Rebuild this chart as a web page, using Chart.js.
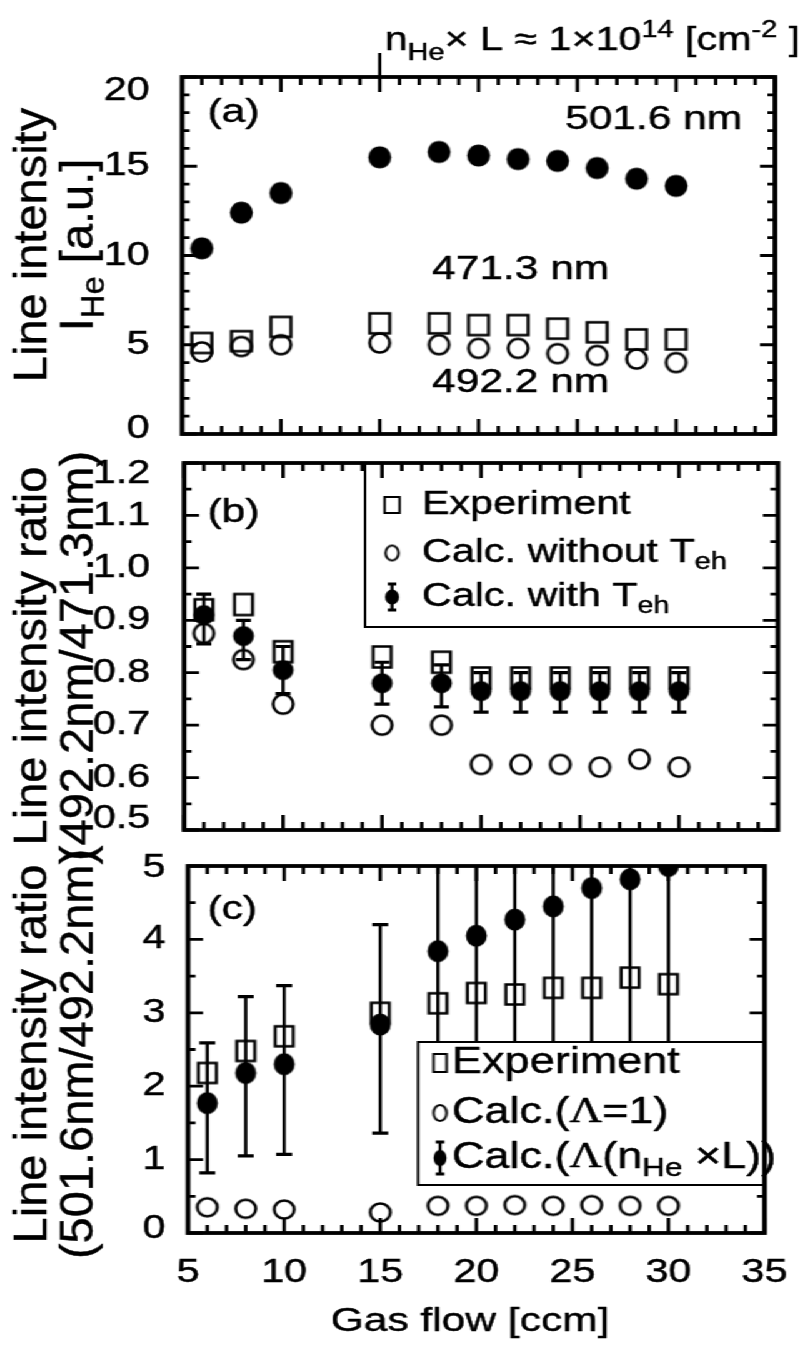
<!DOCTYPE html>
<html>
<head>
<meta charset="utf-8">
<title>He I line intensities vs gas flow</title>
<script src="https://cdn.jsdelivr.net/npm/chart.js@4.4.1/dist/chart.umd.min.js"></script>
<style>
  html, body { margin: 0; padding: 0; background: #fff; }
  body { width: 812px; height: 1347px; overflow: hidden; position: relative; }
  /* the sheet is laid out 650px wide and stretched sideways */
  #sheet { position: absolute; left: 0; top: 0; width: 650px; height: 1347px;
           transform: scaleX(1.25); transform-origin: 0 0; }
  #sheet canvas { position: absolute; left: 0; top: 0; }
</style>
</head>
<body>
<div id="sheet">
  <canvas id="panelA" width="650" height="1347"></canvas>
  <canvas id="panelB" width="650" height="1347"></canvas>
  <canvas id="panelC" width="650" height="1347"></canvas>
</div>
<script>
// gas flow settings [ccm], shared by all three panels
const gasFlow = [6, 8, 10, 15, 18, 20, 22, 24, 26, 28, 30];
const flowTicks = [5, 10, 15, 20, 25, 30, 35];

// (a) line intensities I_He [a.u.]
const int5016 = [10.4, 12.4, 13.5, 15.5, 15.8, 15.6, 15.4, 15.3, 14.9, 14.3, 13.9];
const int4713 = [5.1, 5.2, 6.0, 6.2, 6.2, 6.1, 6.1, 5.9, 5.7, 5.3, 5.3];
const int4922 = [4.6, 4.9, 5.0, 5.1, 5.0, 4.8, 4.8, 4.5, 4.4, 4.2, 4.0];
const intTicks = [0, 5, 10, 15, 20];

// (b) ratio 492.2nm/471.3nm
const ratioBExp   = [0.92, 0.93, 0.84, 0.83, 0.82, 0.79, 0.79, 0.79, 0.79, 0.79, 0.79];
const ratioBNoTeh = [0.875, 0.825, 0.74, 0.70, 0.70, 0.625, 0.625, 0.625, 0.62, 0.635, 0.62];
const ratioBTeh   = [0.91, 0.87, 0.805, 0.78, 0.78, 0.765, 0.765, 0.765, 0.765, 0.765, 0.765];
const ratioBTehLo = [0.855, 0.825, 0.76, 0.74, 0.735, 0.725, 0.725, 0.725, 0.725, 0.725, 0.725];
const ratioBTehHi = [0.95, 0.90, 0.85, 0.82, 0.815, 0.80, 0.80, 0.80, 0.80, 0.80, 0.80];
const ratioBTicks = [0.5, 0.6, 0.7, 0.8, 0.9, 1.0, 1.1, 1.2];

// (c) ratio 501.6nm/492.2nm
const ratioCExp   = [2.18, 2.48, 2.68, 3.0, 3.13, 3.27, 3.25, 3.34, 3.34, 3.48, 3.39];
const ratioCLam1  = [0.35, 0.33, 0.32, 0.28, 0.37, 0.37, 0.38, 0.37, 0.38, 0.37, 0.37];
const ratioCLam   = [1.77, 2.18, 2.30, 2.84, 3.84, 4.05, 4.27, 4.45, 4.70, 4.82, 5.0];
const ratioCLamLo = [0.82, 1.05, 1.07, 1.36, 2.0, 2.0, 2.0, 2.0, 2.0, 2.0, 2.0];
const ratioCLamHi = [2.59, 3.22, 3.37, 4.20, 6.5, 6.5, 6.5, 6.5, 6.5, 6.5, 6.5];
const ratioCTicks = [0, 1, 2, 3, 4, 5];

const SX = 1.25;        // sideways stretch of #sheet
const PAGE_W = 650;
const PAGE_H = 1347;
const INK = 0.45;       // thin outline added to text so the glyphs look a little heavier
const FAMILY = '"Liberation Sans", Arial, Helvetica, sans-serif';
const SERIF = '"Liberation Serif", "Times New Roman", serif';

Chart.defaults.font.family = FAMILY;
Chart.defaults.color = '#000';

// point symbols; w and h are the on-page sizes, so the stretch is undone here
function symbol(kind, w, h, lw = 2.5) {
  const c = document.createElement('canvas');
  const rw = w / SX;
  c.width = Math.ceil(rw + lw * 2 + 2);
  c.height = Math.ceil(h + lw * 2 + 2);
  const g = c.getContext('2d');
  g.translate(c.width / 2, c.height / 2);
  g.lineWidth = lw;
  g.strokeStyle = '#000';
  g.fillStyle = '#000';
  if (kind === 'box') {
    g.strokeRect(-rw / 2, -h / 2, rw, h);
  } else {
    g.beginPath();
    g.ellipse(0, 0, rw / 2, h / 2, 0, 0, Math.PI * 2);
    if (kind === 'dot') g.fill(); else g.stroke();
  }
  return c;
}

function points(ys) {
  return gasFlow.map((x, i) => ({ x, y: ys[i] }));
}

function series(ys, style) {
  return {
    data: points(ys),
    showLine: false,
    pointStyle: style,
    pointRadius: 12,
    borderColor: '#000',
    backgroundColor: '#000'
  };
}

// text made of plain, subscript and superscript runs
function richText(ctx, runs, x, y, size, align = 'left') {
  const parts = runs.map(r => {
    const small = r.sub || r.sup;
    const s = small ? size * 0.7 : size;
    const f = `${s}px ${r.serif ? SERIF : FAMILY}`;
    ctx.font = f;
    return {
      t: r.t, f,
      w: ctx.measureText(r.t).width,
      dy: r.sub ? size * 0.3 : r.sup ? -size * 0.4 : 0
    };
  });
  let cx = x;
  if (align === 'center') cx -= parts.reduce((s, q) => s + q.w, 0) / 2;
  ctx.textAlign = 'left';
  ctx.strokeStyle = '#000';
  ctx.lineWidth = INK;
  ctx.lineJoin = 'round';
  for (const q of parts) {
    ctx.font = q.f;
    ctx.fillText(q.t, cx, y + q.dy);
    ctx.strokeText(q.t, cx, y + q.dy);
    cx += q.w;
  }
}

// rotated axis titles keep their natural proportions
function sideTitle(ctx, lines, xs, cy, size) {
  lines.forEach((runs, i) => {
    ctx.save();
    ctx.translate(xs[i], cy);
    ctx.scale(1 / SX, 1);
    ctx.rotate(-Math.PI / 2);
    ctx.fillStyle = '#000';
    ctx.textBaseline = 'middle';
    richText(ctx, runs, 0, 0, size, 'center');
    ctx.restore();
  });
}

function drawTicks(chart, p) {
  const { ctx, chartArea: a, scales: { x, y } } = chart;
  ctx.save();
  ctx.strokeStyle = '#000';
  ctx.lineWidth = 2.8;
  ctx.beginPath();
  const first = flowTicks[0], last = flowTicks[flowTicks.length - 1];
  for (let v = first; v <= last; v++) {
    const px = x.getPixelForValue(v);
    const len = v % 5 === 0 ? 15 : 8;
    ctx.moveTo(px, a.bottom); ctx.lineTo(px, a.bottom - len);
    ctx.moveTo(px, a.top); ctx.lineTo(px, a.top + len);
  }
  const n = Math.round((p.yMax - p.yMin) / p.yMinor);
  for (let i = 0; i <= n; i++) {
    const py = y.getPixelForValue(p.yMin + i * p.yMinor);
    const len = i % p.perMajor === 0 ? 12 : 6;
    ctx.moveTo(a.left, py); ctx.lineTo(a.left + len, py);
    ctx.moveTo(a.right, py); ctx.lineTo(a.right - len, py);
  }
  ctx.stroke();
  ctx.restore();
}

function drawOutline(chart) {
  const { ctx, chartArea: a } = chart;
  ctx.save();
  ctx.strokeStyle = '#000';
  ctx.lineWidth = 3.8;
  ctx.strokeRect(a.left, a.top, a.right - a.left, a.bottom - a.top);
  ctx.restore();
}

function drawErrorBars(chart, bars) {
  const { ctx, chartArea: a, scales: { x, y } } = chart;
  ctx.save();
  ctx.beginPath();
  ctx.rect(a.left, a.top, a.right - a.left, a.bottom - a.top);
  ctx.clip();
  ctx.strokeStyle = '#000';
  gasFlow.forEach((v, i) => {
    const px = x.getPixelForValue(v);
    const y1 = y.getPixelForValue(bars.lo[i]);
    const y2 = y.getPixelForValue(bars.hi[i]);
    ctx.lineWidth = 2.6;
    ctx.beginPath();
    ctx.moveTo(px, y1); ctx.lineTo(px, y2);
    ctx.stroke();
    ctx.lineWidth = 3.2;
    ctx.beginPath();
    ctx.moveTo(px - bars.cap, y1); ctx.lineTo(px + bars.cap, y1);
    ctx.moveTo(px - bars.cap, y2); ctx.lineTo(px + bars.cap, y2);
    ctx.stroke();
  });
  ctx.restore();
}

function drawKey(ctx, key, x, y) {
  if (key.bar) {
    ctx.lineWidth = 2.4;
    ctx.beginPath();
    ctx.moveTo(x, y - key.bar); ctx.lineTo(x, y + key.bar);
    ctx.stroke();
    ctx.lineWidth = 3;
    ctx.beginPath();
    ctx.moveTo(x - key.cap, y - key.bar); ctx.lineTo(x + key.cap, y - key.bar);
    ctx.moveTo(x - key.cap, y + key.bar); ctx.lineTo(x + key.cap, y + key.bar);
    ctx.stroke();
  }
  ctx.drawImage(key.img, x - key.img.width / 2, y - key.img.height / 2);
}

function drawLegend(chart, lg) {
  const { ctx, chartArea: a } = chart;
  const top = lg.top ?? a.top;
  ctx.save();
  ctx.fillStyle = '#fff';
  ctx.fillRect(lg.left, top, a.right - lg.left, lg.bottom - top);
  ctx.strokeStyle = '#000';
  ctx.lineWidth = 2;
  ctx.strokeRect(lg.left, top, a.right - lg.left, lg.bottom - top);
  ctx.fillStyle = '#000';
  ctx.textBaseline = 'middle';
  lg.rows.forEach((row, i) => {
    drawKey(ctx, row.key, lg.keyX, lg.rowY[i]);
    richText(ctx, row.text, lg.textX, lg.rowY[i], lg.size);
  });
  ctx.restore();
}

function label(ctx, text, x, y, size = 34, align = 'left') {
  ctx.save();
  ctx.fillStyle = '#000';
  ctx.textBaseline = 'middle';
  richText(ctx, [{ t: text }], x, y, size, align);
  ctx.restore();
}

function decorPlugin(p) {
  return {
    id: 'panelDecor',
    beforeDraw(chart) {
      // keep the end labels within the height of the frame
      const items = chart.scales.y.getLabelItems(chart.chartArea);
      if (!items.shifted) {
        items[0].options.translation[1] += p.endShift[0];
        items[items.length - 1].options.translation[1] += p.endShift[1];
        items.shifted = true;
      }
    },
    afterDatasetsDraw(chart) {
      if (p.bars) drawErrorBars(chart, p.bars);
      if (p.legend && !p.legend.overTicks) drawLegend(chart, p.legend);
      drawTicks(chart, p);
      if (p.legend && p.legend.overTicks) drawLegend(chart, p.legend);
      drawOutline(chart);
      p.decorate(chart.ctx, chart);
    }
  };
}

const tickFont = { size: 33 };

function makePanel(p) {
  return new Chart(document.getElementById(p.canvas), {
    type: 'scatter',
    data: { datasets: p.datasets },
    options: {
      responsive: false,
      animation: false,
      events: [],
      layout: {
        padding: {
          left: 0,
          top: p.area.top,
          right: PAGE_W - p.area.right,
          bottom: p.showFlow ? 0 : PAGE_H - p.area.bottom
        }
      },
      plugins: { legend: { display: false }, tooltip: { enabled: false } },
      scales: {
        x: {
          type: 'linear',
          min: flowTicks[0],
          max: flowTicks[flowTicks.length - 1],
          display: p.showFlow,
          afterBuildTicks: s => { s.ticks = flowTicks.map(v => ({ value: v })); },
          afterFit: s => { if (p.showFlow) s.height = PAGE_H - p.area.bottom; },
          grid: { display: false, drawTicks: false },
          border: { display: false },
          ticks: {
            font: tickFont, padding: 20, maxRotation: 0, autoSkip: false,
            textStrokeColor: '#000', textStrokeWidth: INK
          }
        },
        y: {
          type: 'linear',
          min: p.yMin,
          max: p.yMax,
          afterBuildTicks: s => { s.ticks = p.yTicks.map(v => ({ value: v })); },
          afterFit: s => { s.width = p.area.left; },
          grid: { display: false, drawTicks: false },
          border: { display: false },
          ticks: {
            font: tickFont, padding: p.labelGap, autoSkip: false, callback: p.fmt,
            textStrokeColor: '#000', textStrokeWidth: INK
          }
        }
      }
    },
    plugins: [decorPlugin(p)]
  });
}

// ---- (a) line intensities ----
makePanel({
  canvas: 'panelA',
  area: { left: 145.6, right: 620, top: 77, bottom: 434 },
  yMin: 0, yMax: 20, yTicks: intTicks, yMinor: 1, perMajor: 5,
  labelGap: 26, endShift: [-5, 14],
  fmt: v => String(v),
  showFlow: false,
  datasets: [
    series(int5016, symbol('dot', 23, 22)),
    series(int4713, symbol('box', 20, 20)),
    series(int4922, symbol('ring', 20, 19))
  ],
  decorate(ctx, chart) {
    label(ctx, '(a)', 166, 113);
    label(ctx, '501.6 nm', 452, 120);
    label(ctx, '471.3 nm', 345.6, 270);
    label(ctx, '492.2 nm', 345.6, 383);

    // column density mark above the 15 ccm tick
    const px = chart.scales.x.getPixelForValue(15);
    ctx.save();
    ctx.strokeStyle = '#000';
    ctx.lineWidth = 2.6;
    ctx.beginPath();
    ctx.moveTo(px, 53); ctx.lineTo(px, chart.chartArea.top);
    ctx.stroke();
    ctx.fillStyle = '#000';
    ctx.textBaseline = 'alphabetic';
    richText(ctx, [
      { t: 'n' }, { t: 'He', sub: true }, { t: '× L ≈ 1×10' }, { t: '14', sup: true },
      { t: ' [cm' }, { t: '-2', sup: true }, { t: ' ]' }
    ], px + 4, 50, 33);
    ctx.restore();

    sideTitle(ctx, [
      [{ t: 'Line intensity' }],
      [{ t: 'I' }, { t: 'He', sub: true }, { t: ' [a.u.]' }]
    ], [27, 64], 245, 47);
  }
});

// ---- (b) 492.2 / 471.3 ----
makePanel({
  canvas: 'panelB',
  area: { left: 147.2, right: 622.4, top: 463, bottom: 830 },
  yMin: 0.5, yMax: 1.2, yTicks: ratioBTicks, yMinor: 0.05, perMajor: 2,
  labelGap: 27, endShift: [-11, 11],
  fmt: v => v.toFixed(1),
  showFlow: false,
  datasets: [
    series(ratioBTeh, symbol('dot', 21, 20)),
    series(ratioBExp, symbol('box', 18, 21)),
    series(ratioBNoTeh, symbol('ring', 20, 19))
  ],
  bars: { lo: ratioBTehLo, hi: ratioBTehHi, cap: 6 },
  legend: {
    overTicks: false,
    left: 292, bottom: 627,
    keyX: 313.6, textX: 337.6, size: 33,
    rowY: [505, 553, 597],
    rows: [
      { key: { img: symbol('box', 15, 16, 2) }, text: [{ t: 'Experiment' }] },
      { key: { img: symbol('ring', 13, 15, 2) }, text: [{ t: 'Calc. without T' }, { t: 'eh', sub: true }] },
      { key: { img: symbol('dot', 14, 15), bar: 13, cap: 3.4 }, text: [{ t: 'Calc. with T' }, { t: 'eh', sub: true }] }
    ]
  },
  decorate(ctx) {
    label(ctx, '(b)', 166, 513);
    sideTitle(ctx, [
      [{ t: 'Line intensity ratio' }],
      [{ t: '(492.2nm/471.3nm)' }]
    ], [27, 64], 656, 47);
  }
});

// ---- (c) 501.6 / 492.2 ----
makePanel({
  canvas: 'panelC',
  area: { left: 150.4, right: 624.8, top: 866, bottom: 1233 },
  yMin: 0, yMax: 5, yTicks: ratioCTicks, yMinor: 0.5, perMajor: 2,
  labelGap: 18, endShift: [-4, 2],
  fmt: v => String(v),
  showFlow: true,
  datasets: [
    series(ratioCLam, symbol('dot', 21, 22)),
    series(ratioCExp, symbol('box', 18, 20)),
    series(ratioCLam1, symbol('ring', 20, 18))
  ],
  bars: { lo: ratioCLamLo, hi: ratioCLamHi, cap: 6.4 },
  legend: {
    overTicks: true,
    left: 334.4, top: 1042, bottom: 1185,
    keyX: 352, textX: 361.6, size: 36,
    rowY: [1063, 1113, 1158],
    rows: [
      { key: { img: symbol('box', 13, 18, 2) }, text: [{ t: 'Experiment' }] },
      { key: { img: symbol('ring', 13, 16, 2) }, text: [{ t: 'Calc.(' }, { t: 'Λ', serif: true }, { t: '=1)' }] },
      { key: { img: symbol('dot', 13, 16), bar: 16, cap: 3.4 },
        text: [{ t: 'Calc.(' }, { t: 'Λ', serif: true }, { t: '(n' }, { t: 'He', sub: true }, { t: ' ×L))' }] }
    ]
  },
  decorate(ctx, chart) {
    label(ctx, '(c)', 166, 910);
    const a = chart.chartArea;
    label(ctx, 'Gas flow [ccm]', (a.left + a.right) / 2 - 5, 1322, 34, 'center');
    sideTitle(ctx, [
      [{ t: 'Line intensity ratio' }],
      [{ t: '(501.6nm/492.2nm)' }]
    ], [27, 64], 1054, 47);
  }
});
</script>
</body>
</html>
